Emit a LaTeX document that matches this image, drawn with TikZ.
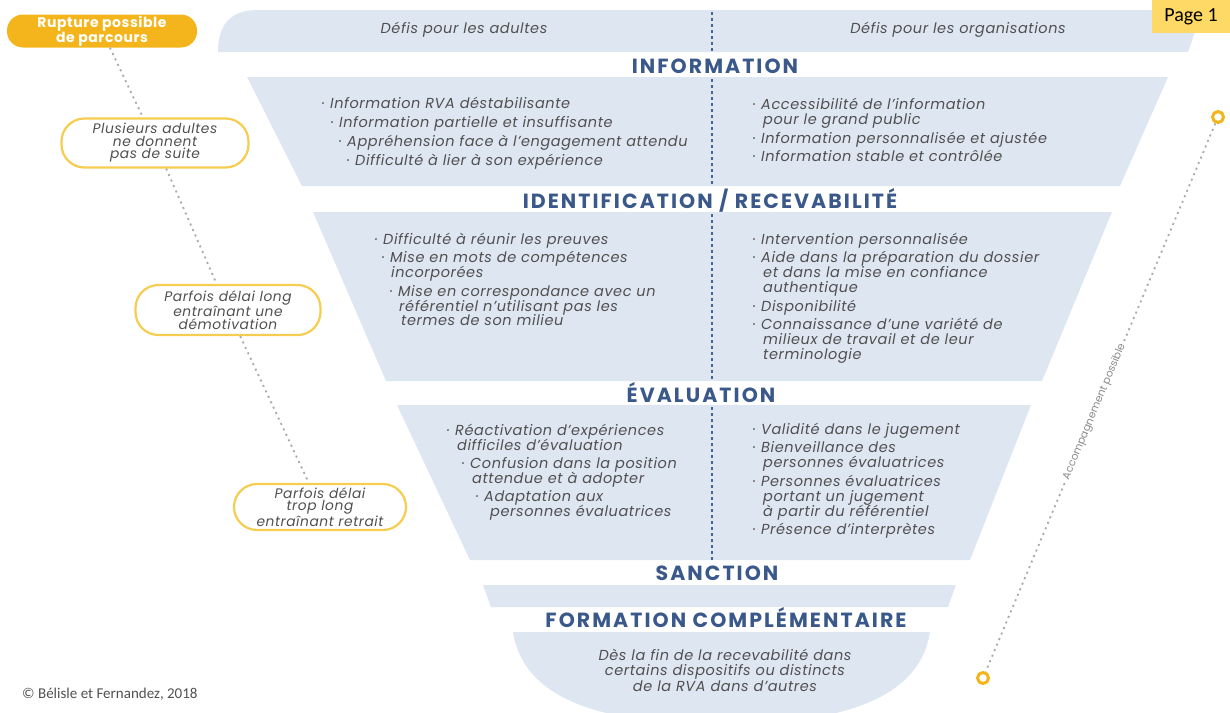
\documentclass[tikz,border=0pt]{standalone}
\usepackage{fontspec}
\setmainfont{Poppins}
\newfontfamily\bodyfont{Poppins}[LetterSpace=4]
\newfontfamily\headfont{Poppins}[LetterSpace=10]
\newfontfamily\pagefont{Carlito}
\definecolor{bandblue}{RGB}{222,230,242}
\definecolor{headblue}{RGB}{58,88,138}
\definecolor{divblue}{RGB}{70,100,150}
\definecolor{bodygrey}{RGB}{80,80,80}
\definecolor{pillyellow}{RGB}{243,181,27}
\definecolor{ovalyellow}{RGB}{246,205,80}
\definecolor{dotgrey}{RGB}{170,170,170}
\definecolor{labelgrey}{RGB}{140,140,140}
\definecolor{pageyellow}{RGB}{255,217,102}
\tikzset{
  band/.style={fill=bandblue},
  divider/.style={divblue, line width=1.6pt, dash pattern=on 3pt off 3pt},
  heading/.style={text=headblue, font=\headfont\fontsize{20.5}{22}\selectfont\bfseries, inner sep=0pt},
  body/.style={text=bodygrey, font=\bodyfont\fontsize{14.5}{15}\selectfont\itshape, inner sep=0pt, anchor=base west},
  headtext/.style={text=bodygrey, font=\bodyfont\fontsize{14.5}{15}\selectfont\itshape, inner sep=0pt},
  bowltext/.style={text=bodygrey, font=\bodyfont\fontsize{14.5}{15.5}\selectfont\itshape, inner sep=0pt, align=center},
  oval/.style={draw=ovalyellow, line width=2.2pt, fill=white, rounded corners=23pt,
    align=center, text=bodygrey, font=\bodyfont\fontsize{13.8}{12.5}\selectfont\itshape, inner sep=0pt},
  greydots/.style={dotgrey, line width=1.8pt, dash pattern=on 2pt off 4pt},
  ring/.style={circle, draw=pillyellow, line width=3pt, minimum size=11pt, inner sep=0pt},
}
\newcommand{\bodyline}[4]{\node[body] (#1) at (#2,#3) {#4};}
\begin{document}
\begin{tikzpicture}[x=1pt,y=-1pt]
\useasboundingbox (0,0) rectangle (1230,712);
\clip (0,0) rectangle (1230,712);
% bands
\fill[band] (218,52) .. controls (218,25) and (230,10) .. (258,10) -- (1195,10)
   .. controls (1200,10) and (1201,13) .. (1200,17) -- (1188,52) -- cycle;
\fill[band] (247,77) -- (1168,77) -- (1120,186) -- (302,186) -- cycle;
\fill[band] (313,212) -- (1112,212) -- (1042,381) -- (386,381) -- cycle;
\fill[band] (397,405) -- (1031,405) -- (970,560) -- (470,560) -- cycle;
\fill[band] (483,585) -- (956,585) -- (948,607) -- (491,607) -- cycle;
\fill[band] (513,632) -- (930,632) .. controls (918,708) and (820,724) .. (721,724)
   .. controls (622,724) and (525,708) .. (513,632) -- cycle;
% dividers
\draw[divider] (712,12) -- (712,52);
\draw[divider] (712,79) -- (712,186);
\draw[divider] (712,214) -- (712,381);
\draw[divider] (712,407) -- (712,560);
% header texts
\node[headtext] (hl) at (464,30) {Défis pour les adultes};
\node[headtext] (hr) at (958,30) {Défis pour les organisations};
% headings
\node[heading] (hinfo) at (715,66) {INFORMATION};
\node[heading] (hident) at (710,200) {IDENTIFICATION / RECEVABILITÉ};
\node[heading] (heval) at (701,393) {ÉVALUATION};
\node[heading] (hsanc) at (717,573) {SANCTION};
\node[heading] (hform) at (726,618) {FORMATION COMPLÉMENTAIRE};
% information
\bodyline{il1}{322}{108}{· Information RVA déstabilisante}
\bodyline{il2}{331}{127}{· Information partielle et insuffisante}
\bodyline{il3}{339}{146}{· Appréhension face à l’engagement attendu}
\bodyline{il4}{347}{165}{· Difficulté à lier à son expérience}
\bodyline{ir1}{753}{109}{· Accessibilité de l’information}
\bodyline{ir2}{763}{124}{pour le grand public}
\bodyline{ir3}{753}{143}{· Information personnalisée et ajustée}
\bodyline{ir4}{753}{161}{· Information stable et contrôlée}
% identification
\bodyline{dl1}{375}{244}{· Difficulté à réunir les preuves}
\bodyline{dl2}{382}{262}{· Mise en mots de compétences}
\bodyline{dl3}{391}{277}{incorporées}
\bodyline{dl4}{390}{296}{· Mise en correspondance avec un}
\bodyline{dl5}{399}{311}{référentiel n’utilisant pas les}
\bodyline{dl6}{401}{325}{termes de son milieu}
\bodyline{dr1}{753}{244}{· Intervention personnalisée}
\bodyline{dr2}{753}{262}{· Aide dans la préparation du dossier}
\bodyline{dr3}{763}{277}{et dans la mise en confiance}
\bodyline{dr4}{763}{292}{authentique}
\bodyline{dr5}{753}{311}{· Disponibilité}
\bodyline{dr6}{753}{329}{· Connaissance d’une variété de}
\bodyline{dr7}{763}{344}{milieux de travail et de leur}
\bodyline{dr8}{763}{359}{terminologie}
% evaluation
\bodyline{el1}{447}{435}{· Réactivation d’expériences}
\bodyline{el2}{457}{450}{difficiles d’évaluation}
\bodyline{el3}{462}{468}{· Confusion dans la position}
\bodyline{el4}{472}{483}{attendue et à adopter}
\bodyline{el5}{476}{501}{· Adaptation aux}
\bodyline{el6}{490}{516}{personnes évaluatrices}
\bodyline{er1}{753}{434}{· Validité dans le jugement}
\bodyline{er2}{753}{452}{· Bienveillance des}
\bodyline{er3}{763}{467}{personnes évaluatrices}
\bodyline{er4}{753}{486}{· Personnes évaluatrices}
\bodyline{er5}{763}{501}{portant un jugement}
\bodyline{er6}{763}{516}{à partir du référentiel}
\bodyline{er7}{753}{534}{· Présence d’interprètes}
% bowl text
\node[bowltext] (bowl) at (725,670) {Dès la fin de la recevabilité dans\\certains dispositifs ou distincts\\de la RVA dans d’autres};
% left path
\node[fill=pillyellow, rounded corners=16pt, minimum width=190pt, minimum height=33pt, inner sep=0pt,
  text=white, align=center, font=\bodyfont\fontsize{14}{14}\selectfont\bfseries] (pill) at (102,31) {Rupture possible\\de parcours};
\node[oval, minimum width=187pt, minimum height=49pt] (e1) at (155,143) {Plusieurs adultes\\ne donnent\\pas de suite};
\node[oval, minimum width=185pt, minimum height=50pt] (e2) at (228,310) {Parfois délai long\\entraînant une\\démotivation};
\node[oval, minimum width=172pt, minimum height=46pt] (e3) at (320,507) {Parfois délai\\trop long\\entraînant retrait};
\draw[greydots] (pill) -- (e1);
\draw[greydots] (e1) -- (e2);
\draw[greydots] (e2) -- (e3);
% right path
\node[ring] (r1) at (1218,117) {};
\node[ring] (r2) at (983,678) {};
\draw[greydots] (r1) -- node[pos=0.526, sloped, fill=white, inner sep=2pt, text=labelgrey,
  font=\fontsize{10.5}{12}\selectfont] (acc) {Accompagnement possible} (r2);
% page label and credit
\node[fill=pageyellow, minimum width=78pt, minimum height=33pt, inner sep=0pt,
  font=\pagefont\fontsize{20}{20}\selectfont] (page) at (1191,16.5) {Page 1};
\node[anchor=base west, inner sep=0pt, text=bodygrey, font=\pagefont\fontsize{15}{15}\selectfont] (credit) at (22,698) {© Bélisle et Fernandez, 2018};
\end{tikzpicture}
\end{document}
